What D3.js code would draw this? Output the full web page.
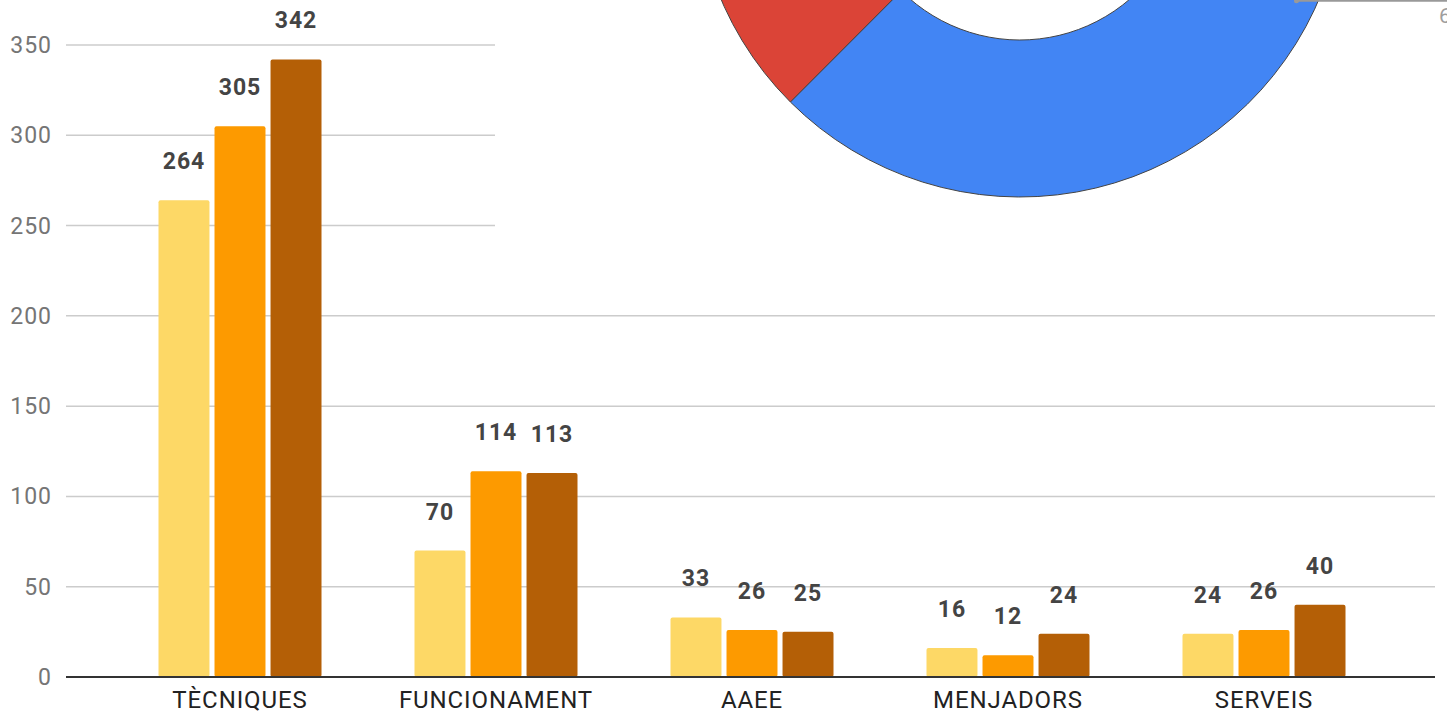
<!DOCTYPE html>
<html>
<head>
<meta charset="utf-8">
<script src="https://cdn.jsdelivr.net/npm/d3@7"></script>
<style>
  body { margin: 0; background: #fff; overflow: hidden; }
  svg { display: block; font-family: Roboto, sans-serif; }
</style>
</head>
<body>
<script>
// bar data
var categories = ["TÈCNIQUES", "FUNCIONAMENT", "AAEE", "MENJADORS", "SERVEIS"];
var serie1 = [264, 70, 33, 16, 24];
var serie2 = [305, 114, 26, 12, 26];
var serie3 = [342, 113, 25, 24, 40];
var yTicks = [0, 50, 100, 150, 200, 250, 300, 350];

// donut (other chart overlapping at the top)
var donutValues = [61.1, 15.3, 13.9, 9.7];
var donutLabels = ["61,1%", "15,3%", "13,9%", "9,7%"];

var barColors = ["#fdd866", "#fd9a00", "#b45f06"];
var donutColors = ["#4285f4", "#db4437", "#f4b400", "#0f9d58"];

var W = 1447, H = 713;
var svg = d3.select("body").append("svg").attr("width", W).attr("height", H);

var y = d3.scaleLinear().domain([0, 350]).range([677, 45]);
var x0 = d3.scaleBand().domain(categories).range([112, 1392]).padding(0);
var groupW = 163;
var x1 = d3.scaleBand().domain([0, 1, 2]).range([0, groupW]).paddingInner(0.09).paddingOuter(0);

// gridlines
svg.append("g").selectAll("line")
    .data(yTicks.filter(function(d){ return d > 0; }))
    .enter().append("line")
    .attr("x1", 66).attr("x2", 1435)
    .attr("y1", function(d){ return y(d); })
    .attr("y2", function(d){ return y(d); })
    .attr("stroke", "#cccccc").attr("stroke-width", 1.5);

// y tick labels
svg.append("g").selectAll("text")
    .data(yTicks)
    .enter().append("text")
    .attr("x", 52)
    .attr("y", function(d){ return y(d) + 8; })
    .attr("text-anchor", "end")
    .attr("font-size", 23)
    .attr("letter-spacing", 1)
    .attr("fill", "#757575")
    .text(function(d){ return d; });

var series = [serie1, serie2, serie3];
var rows = [];
series.forEach(function(s, si){
    s.forEach(function(v, ci){
        rows.push({cat: categories[ci], s: si, v: v});
    });
});

function barX(d){ return x0(d.cat) + x0.bandwidth()/2 - groupW/2 + x1(d.s); }

var groups = svg.append("g");
groups.selectAll("rect")
    .data(rows)
    .enter().append("rect")
    .attr("x", barX)
    .attr("y", function(d){ return y(d.v); })
    .attr("width", x1.bandwidth())
    .attr("height", function(d){ return y(0) - y(d.v); })
    .attr("rx", 2)
    .attr("fill", function(d){ return barColors[d.s]; });

groups.selectAll("text")
    .data(rows)
    .enter().append("text")
    .attr("x", function(d){ return barX(d) + x1.bandwidth()/2; })
    .attr("y", function(d){ return y(d.v) - 31; })
    .attr("text-anchor", "middle")
    .attr("font-size", 23)
    .attr("letter-spacing", 1)
    .attr("font-weight", "bold")
    .attr("fill", "#444444")
    .text(function(d){ return d.v; });

// baseline
svg.append("line")
    .attr("x1", 66).attr("x2", 1435)
    .attr("y1", y(0)).attr("y2", y(0))
    .attr("stroke", "#333333").attr("stroke-width", 2);

// category labels
svg.append("g").selectAll("text")
    .data(categories)
    .enter().append("text")
    .attr("x", function(d){ return x0(d) + x0.bandwidth()/2; })
    .attr("y", 708)
    .attr("text-anchor", "middle")
    .attr("font-size", 24)
    .attr("letter-spacing", 0.9)
    .attr("fill", "#222222")
    .text(function(d){ return d; });

// overlapping donut chart with its white background
var dg = svg.append("g");
dg.append("rect").attr("x", 495).attr("y", 0).attr("width", W - 495).attr("height", 235).attr("fill", "#fff");

var cx = 1020, cy = -128, rOut = 325, rIn = 168;
var start = 5 * Math.PI / 180;
var pie = d3.pie().sort(null).startAngle(start).endAngle(start + 2 * Math.PI);
var arcs = pie(donutValues);
var arc = d3.arc().innerRadius(rIn).outerRadius(rOut);

var dd = dg.append("g").attr("transform", "translate(" + cx + "," + cy + ")");
dd.selectAll("path")
    .data(arcs)
    .enter().append("path")
    .attr("d", arc)
    .attr("fill", function(d, i){ return donutColors[i]; })
    .attr("stroke", "#444").attr("stroke-width", 1);

// leader line + label for first slice
var a0 = arcs[0];
var mid = (a0.startAngle + a0.endAngle) / 2;
var px = Math.sin(mid) * 305, py = -Math.cos(mid) * 305;
dd.append("circle").attr("cx", px).attr("cy", py).attr("r", 2.5).attr("fill", "#999");
dd.append("line")
    .attr("x1", px).attr("y1", py)
    .attr("x2", W - cx + 10).attr("y2", py)
    .attr("stroke", "#999").attr("stroke-width", 2);
dg.append("text")
    .attr("x", 1439).attr("y", cy + py + 22)
    .attr("font-size", 21)
    .attr("fill", "#9e9e9e")
    .text(donutLabels[0]);
</script>
</body>
</html>
